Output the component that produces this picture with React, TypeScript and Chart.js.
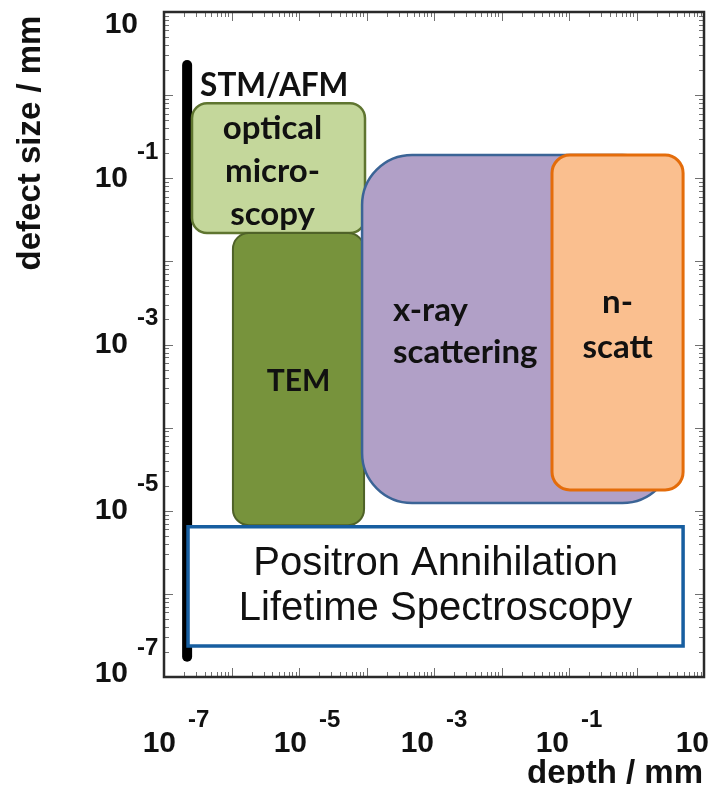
import React, { useEffect, useRef } from "react";
import { Chart, registerables } from "chart.js";
Chart.register(...registerables);

// ---- axis ----
const axisMin = 1e-7;
const axisMax = 10;
const tickExponents = [-7, -5, -3, -1, 1];
const xTitle = "depth / mm";
const yTitle = "defect size / mm";

// ---- STM/AFM vertical bar ----
const stmLabel = "STM/AFM";
const stmDepth = [2.2e-7, 2.2e-7];
const stmSize = [1.75e-7, 2.3];

// ---- technique regions ----
const techLabels = [
  ["optical", "micro-", "scopy"],
  ["TEM"],
  ["x-ray", "scattering"],
  ["n-", "scatt"],
  ["Positron Annihilation", "Lifetime Spectroscopy"],
];
const techDepthMin = [2.6e-7, 1.05e-6, 8.6e-5, 0.056, 2.27e-7];
const techDepthMax = [9.5e-5, 9.2e-5, 3.4, 4.9, 4.9];
const techSizeMin = [0.022, 6.7e-6, 1.24e-5, 1.78e-5, 2.36e-7];
const techSizeMax = [0.8, 0.022, 0.19, 0.19, 6.4e-6];

// ---- styles (separate from data) ----
const CAL = "'Lato', 'Open Sans', sans-serif";
const ARI = "'Liberation Sans', Arial, sans-serif";
const STYLES = [
  { fill: "#c4d79b", stroke: "#5f7530", lw: 2.5, r: 15, font: `bold 33px ${CAL}`, lh: 43, align: "center", dx: -6, dy: 3 },
  { fill: "#77933c", stroke: "#4f6228", lw: 2, r: 16, font: `bold 30px ${CAL}`, lh: 43, align: "center", dx: 0, dy: 2 },
  { fill: "#b1a0c7", stroke: "#3b6496", lw: 2.5, r: 50, font: `bold 33px ${CAL}`, lh: 42, align: "left", dx: 31, dy: 2 },
  { fill: "#fabf8f", stroke: "#e46c0a", lw: 3, r: 18, font: `bold 33px ${CAL}`, lh: 45, align: "center", dx: 0, dy: 2 },
  { fill: "#ffffff", stroke: "#175ea0", lw: 3.5, r: 0, font: `40px ${ARI}`, lh: 45, align: "center", dx: 0, dy: 0 },
];

const shapesPlugin = {
  id: "shapes",
  afterDatasetsDraw(chart: any) {
    const { ctx } = chart;
    const xs = chart.scales.x;
    const ys = chart.scales.y;
    // STM label
    const sx = xs.getPixelForValue(stmDepth[1]);
    const sy = ys.getPixelForValue(stmSize[1]);
    ctx.save();
    ctx.fillStyle = "#111";
    ctx.font = `bold 31.5px ${CAL}`;
    ctx.textAlign = "left";
    ctx.textBaseline = "alphabetic";
    ctx.fillText(stmLabel, sx + 13, sy + 31);
    ctx.restore();

    techLabels.forEach((lines, i) => {
      const st = STYLES[i];
      const l = xs.getPixelForValue(techDepthMin[i]);
      const r = xs.getPixelForValue(techDepthMax[i]);
      const t = ys.getPixelForValue(techSizeMax[i]);
      const b = ys.getPixelForValue(techSizeMin[i]);
      ctx.save();
      ctx.beginPath();
      ctx.roundRect(l, t, r - l, b - t, st.r);
      ctx.fillStyle = st.fill;
      ctx.fill();
      ctx.lineWidth = st.lw;
      ctx.strokeStyle = st.stroke;
      ctx.stroke();
      ctx.fillStyle = "#111";
      ctx.font = st.font;
      ctx.textBaseline = "middle";
      const cy = (t + b) / 2 + st.dy;
      const n = lines.length;
      lines.forEach((txt, k) => {
        const yy = cy + (k - (n - 1) / 2) * st.lh;
        if (st.align === "center") {
          ctx.textAlign = "center";
          ctx.fillText(txt, (l + r) / 2 + st.dx, yy);
        } else {
          ctx.textAlign = "left";
          ctx.fillText(txt, l + st.dx, yy);
        }
      });
      ctx.restore();
    });
  },
};

const framePlugin = {
  id: "frame",
  afterDraw(chart: any) {
    const { ctx, chartArea: a, width } = chart;
    const xs = chart.scales.x;
    const ys = chart.scales.y;
    ctx.save();
    // minor/major ticks, inward, on all sides
    ctx.strokeStyle = "#707070";
    ctx.lineWidth = 1;
    ctx.beginPath();
    for (let d = -7; d <= 1; d++) {
      for (let k = 1; k <= 9; k++) {
        const v = k * Math.pow(10, d);
        if (v > axisMax * 1.0001) break;
        const len = k === 1 ? 9 : 5;
        const px = Math.round(xs.getPixelForValue(v)) + 0.5;
        const py = Math.round(ys.getPixelForValue(v)) + 0.5;
        ctx.moveTo(px, a.bottom); ctx.lineTo(px, a.bottom - len);
        ctx.moveTo(px, a.top); ctx.lineTo(px, a.top + len);
        ctx.moveTo(a.left, py); ctx.lineTo(a.left + len, py);
        ctx.moveTo(a.right, py); ctx.lineTo(a.right - len, py);
      }
    }
    ctx.stroke();
    // frame
    ctx.strokeStyle = "#2a2a2a";
    ctx.lineWidth = 2.5;
    ctx.strokeRect(a.left, a.top, a.right - a.left, a.bottom - a.top);

    // tick labels
    ctx.fillStyle = "#111";
    const baseFont = `bold 30px ${ARI}`;
    const expFont = `bold 24px ${ARI}`;
    tickExponents.forEach((e, idx) => {
      const v = Math.pow(10, e);
      // x axis
      const px = xs.getPixelForValue(v) + (idx === 0 ? 12 : idx === 1 ? 8 : 0);
      ctx.textBaseline = "alphabetic";
      ctx.font = baseFont;
      const bw = ctx.measureText("10").width;
      if (e === 1) {
        ctx.textAlign = "left";
        const left = Math.min(px - bw / 2, width - bw - 1);
        ctx.fillText("10", left, a.bottom + 75);
      } else {
        ctx.font = expFont;
        const es = String(e);
        const ew = ctx.measureText(es).width;
        const gap = 12;
        const left = px - (bw + gap + ew) / 2;
        ctx.textAlign = "left";
        ctx.font = baseFont;
        ctx.fillText("10", left, a.bottom + 75);
        ctx.font = expFont;
        ctx.fillText(es, left + bw + gap, a.bottom + 50);
      }
      // y axis
      let py = ys.getPixelForValue(v);
      py = Math.max(a.top + 13, Math.min(a.bottom - 3, py));
      ctx.textBaseline = "middle";
      ctx.font = baseFont;
      if (e === 1) {
        ctx.textAlign = "right";
        ctx.fillText("10", a.left - 26, py);
      } else {
        ctx.textAlign = "right";
        ctx.fillText("10", a.left - 36, py);
        ctx.font = expFont;
        ctx.textAlign = "left";
        ctx.fillText(String(e), a.left - 27, py - 26);
      }
    });

    // axis titles
    ctx.font = `bold 33px ${ARI}`;
    ctx.textAlign = "right";
    ctx.textBaseline = "alphabetic";
    ctx.fillText(xTitle, a.right - 1, a.bottom + 106);
    ctx.save();
    ctx.translate(32, 135);
    ctx.rotate(-Math.PI / 2);
    ctx.textAlign = "center";
    ctx.fillText(yTitle, 0, 0);
    ctx.restore();
    ctx.restore();
  },
};

export default function App() {
  const ref = useRef<HTMLCanvasElement>(null);
  useEffect(() => {
    if (!ref.current) return;
    const chart = new Chart(ref.current, {
      type: "line",
      data: {
        datasets: [
          {
            data: stmDepth.map((x, i) => ({ x, y: stmSize[i] })),
            borderColor: "#000",
            borderWidth: 10,
            borderCapStyle: "round",
            pointRadius: 0,
            fill: false,
          } as any,
        ],
      },
      options: {
        responsive: false,
        animation: false,
        devicePixelRatio: 1,
        layout: { padding: { left: 156, right: 6, top: 4, bottom: 115 } },
        plugins: { legend: { display: false }, tooltip: { enabled: false } },
        scales: {
          x: { type: "logarithmic", min: axisMin, max: axisMax, display: false },
          y: { type: "logarithmic", min: axisMin, max: axisMax, display: false },
        },
      },
      plugins: [shapesPlugin, framePlugin],
    });
    return () => chart.destroy();
  }, []);
  return (
    <div style={{ height: 776 }}>
      <canvas ref={ref} width={702} height={784} style={{ display: "block" }} />
    </div>
  );
}
